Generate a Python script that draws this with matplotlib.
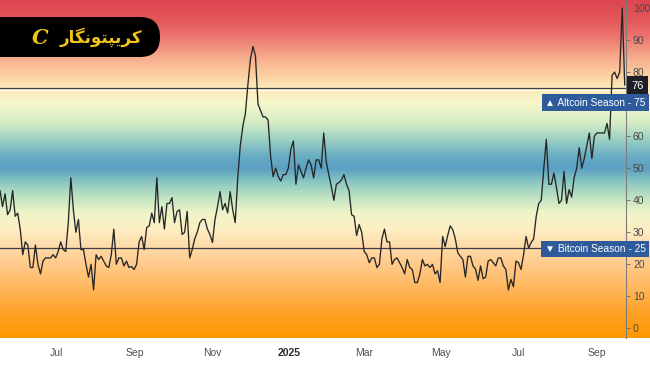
import numpy as np
import pandas as pd
import matplotlib
matplotlib.use('Agg')
import matplotlib.pyplot as plt
import matplotlib.transforms as mtransforms
from matplotlib.colors import LinearSegmentedColormap
from matplotlib.patches import FancyBboxPatch

plt.rcParams['font.family'] = ['Liberation Sans', 'DejaVu Sans']

# Altcoin season index, one reading every 2 days
start_date = '2024-05-17'
index_values = [
    43, 38, 42, 35.5, 37, 43, 35, 36, 31, 23,
    27, 26, 19, 19, 26, 20, 17, 21, 22, 22,
    22, 23, 22, 24, 27, 24.6, 24, 33, 47, 37,
    30, 34, 24.6, 24.6, 20, 16, 20, 12, 23, 21.5,
    22.5, 21, 19.5, 19, 23, 31, 20, 22, 22, 19.5,
    21, 19, 19.3, 18.4, 20, 27, 28.7, 24.6, 31.5, 32,
    36, 33, 47, 33, 38, 31, 39, 39, 40.8, 33,
    36.5, 37, 29.3, 30, 36.5, 22, 24.6, 28, 30, 33,
    34, 34, 31, 29.3, 26.8, 34, 38, 42.7, 37, 39,
    36, 42.7, 37, 33, 47, 57, 63, 67, 76, 84,
    88, 85, 70, 68, 66, 66, 65, 53.6, 47.4, 50,
    47.4, 46, 48, 48, 50, 56, 58.5, 45, 51, 49,
    47, 50, 52.6, 51, 47, 52.6, 52.6, 50, 61, 52,
    48, 44.2, 40, 45, 45.5, 46.4, 48, 45, 43, 35.5,
    35, 29, 32.4, 30, 24, 23, 20.5, 22, 22, 19,
    20, 28, 31, 27, 27, 20, 21.5, 22, 20.5, 19,
    17, 21.5, 19, 18.4, 14.3, 14.3, 17, 21.5, 19.5, 20,
    19, 20, 17, 18, 14.3, 28.7, 25.5, 29, 32, 30.8,
    28, 23.6, 22.5, 21.5, 16, 22.5, 22.5, 19.5, 18.5, 15,
    19.5, 15.5, 16, 21, 21.5, 20.5, 19.5, 22, 22, 19.5,
    18.4, 12, 15.3, 13, 21, 20.5, 18.4, 23, 28.7, 25,
    26.8, 28, 35, 39, 40, 50, 59, 45, 45, 48.5,
    44, 39, 40, 49, 39, 43.3, 41, 47, 50, 56.4,
    50, 53, 57, 61, 53, 60, 61, 61, 61, 61,
    64, 59, 79, 80, 78, 80, 100, 76,
]
dates = pd.date_range(start_date, periods=len(index_values), freq='2D')

tick_dates = ['2024-07-01', '2024-09-01', '2024-11-01', '2025-01-01',
              '2025-03-01', '2025-05-01', '2025-07-01', '2025-09-01']
tick_labels = ['Jul', 'Sep', 'Nov', '2025', 'Mar', 'May', 'Jul', 'Sep']
y_ticks = list(range(0, 101, 10))
# 70 sits under the Altcoin Season tag, so it is not shown
y_tick_labels = ['' if t == 70 else str(t) for t in y_ticks]

altcoin_level = 75
bitcoin_level = 25
current_value = index_values[-1]

# background colour by index level
grad_values = [-3, 5, 12, 20, 26, 31, 36, 41, 46, 50, 54, 59, 64, 70, 75, 80, 86, 92, 97, 102.5]
grad_colors = ['#ff9800', '#ffa22a', '#ffb65a', '#ffcb8c', '#fedcab', '#fdefc4', '#eef5c8',
               '#bfe3c2', '#86c5c2', '#5b9fc3', '#6aaec4', '#9bd0c3', '#d2ebc4', '#f6f7cb',
               '#fdebba', '#fbcc9e', '#f5a386', '#ea706d', '#e25658', '#dd4650']

ylo, yhi = -3, 102.5
pos = [(v - ylo) / (yhi - ylo) for v in grad_values]
cmap = LinearSegmentedColormap.from_list('season', list(zip(pos, grad_colors)))

fig = plt.figure(figsize=(6.5, 3.65), dpi=100)
fig.patch.set_facecolor('white')

bg = fig.add_axes([0, 27 / 365, 1, 338 / 365], zorder=0)
bg.imshow(np.linspace(ylo, yhi, 500).reshape(-1, 1), origin='lower', aspect='auto',
          cmap=cmap, extent=[0, 1, ylo, yhi], vmin=ylo, vmax=yhi)
bg.set_ylim(ylo, yhi)
bg.axis('off')

ax = fig.add_axes([0, 27 / 365, 626 / 650, 338 / 365], zorder=1)
ax.patch.set_alpha(0)
ax.plot(dates, index_values, color='#262626', lw=0.95, zorder=3)
ax.axhline(altcoin_level, color='#3c3f4a', lw=0.9, zorder=2)
ax.axhline(altcoin_level - 0.7, color='white', lw=0.8, alpha=0.8, zorder=2)
ax.axhline(bitcoin_level, color='#3c3f4a', lw=0.9, zorder=2)

ax.set_xlim(dates[0], dates[-1] + pd.Timedelta(days=1))
ax.set_ylim(ylo, yhi)

for side in ['top', 'left', 'bottom']:
    ax.spines[side].set_visible(False)
ax.spines['right'].set_color('#7d7d7d')
ax.spines['right'].set_linewidth(0.8)

ax.yaxis.tick_right()
ax.set_yticks(y_ticks)
ax.set_yticklabels(y_tick_labels)
ax.tick_params(axis='y', length=3, width=0.6, color='#6a6a6a', labelsize=7.5,
               labelcolor='#4a4a4a', pad=2)
ax.set_xticks(pd.to_datetime(tick_dates))
ax.set_xticklabels(tick_labels)
ax.tick_params(axis='x', length=0, labelsize=7.5, labelcolor='#505050', pad=7)
ax.get_xticklabels()[3].set_fontweight('bold')
ax.get_xticklabels()[3].set_color('#2a2a2a')

# value tags on the right scale
trans = mtransforms.blended_transform_factory(ax.transAxes, ax.transData)
ax.text(1.0185, current_value - 0.3, f'{current_value:g}', transform=trans, ha='center',
        va='center', color='white', fontsize=8, clip_on=False, zorder=5,
        bbox=dict(boxstyle='square,pad=0.4', fc='#1c1f26', ec='none'))
ax.text(1.031, altcoin_level - 4.5, f'\u25b2 Altcoin Season - {altcoin_level}', transform=trans,
        ha='right', va='center', color='white', fontsize=7.3, clip_on=False, zorder=5,
        bbox=dict(boxstyle='square,pad=0.32', fc='#2d5b9c', ec='none'))
ax.text(1.031, bitcoin_level - 0.2, f'\u25bc Bitcoin Season - {bitcoin_level}', transform=trans,
        ha='right', va='center', color='white', fontsize=7.3, clip_on=False, zorder=5,
        bbox=dict(boxstyle='square,pad=0.32', fc='#2d5b9c', ec='none'))

# logo badge, drawn in pixel units
logo = fig.add_axes([0, 0, 1, 1], zorder=6)
logo.set_xlim(0, 650)
logo.set_ylim(365, 0)
logo.axis('off')
logo.add_patch(FancyBboxPatch((-30, 17), 190, 40, boxstyle='round,pad=0,rounding_size=20',
                              fc='black', ec='none'))
brand = '\ufead\ufe8e\ufb95\ufee7\ufeee\ufe98\ufb59\ufbfe\ufeae\ufb90'
logo.text(101, 37, brand, family=['DejaVu Sans'], fontsize=12, fontweight='bold',
          color='#f2c318', ha='center', va='center')
logo.text(40, 38, 'C', family=['DejaVu Serif'], fontsize=15, fontweight='bold',
          fontstyle='italic', color='#f2c318', ha='center', va='center')

fig.savefig('out.png', dpi=100)
